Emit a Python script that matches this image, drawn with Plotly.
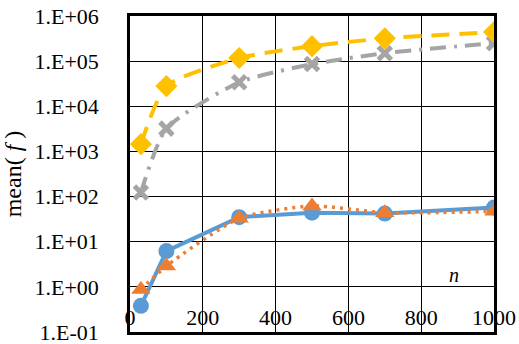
import plotly.graph_objects as go

n_vals = [30, 100, 300, 500, 700, 1000]
blue_vals = [0.38, 6.2, 35, 44, 42, 57]
orange_vals = [0.87, 2.9, 33, 62, 44, 47]
gray_vals = [123, 3200, 34000, 86000, 150000, 250000]
gold_vals = [1450, 28000, 117000, 215000, 320000, 440000]

x_ticks = [0, 200, 400, 600, 800, 1000]
y_ticks = [0.1, 1, 10, 100, 1e3, 1e4, 1e5, 1e6]
y_labels = ["1.E-01", "1.E+00", "1.E+01", "1.E+02", "1.E+03", "1.E+04", "1.E+05", "1.E+06"]

BLUE = "#5B9BD5"
ORANGE = "#ED7D31"
GRAY = "#A5A5A5"
GOLD = "#FFC000"
SERIF = "Liberation Serif, Times New Roman, serif"

fig = go.Figure()
fig.add_trace(go.Scatter(
    x=n_vals, y=gray_vals, mode="lines+markers",
    line=dict(color=GRAY, width=4, dash="16px,8px,3px,8px", shape="spline", smoothing=0.6),
    marker=dict(symbol="x-thin", size=13, line=dict(color=GRAY, width=5), color=GRAY),
))
fig.add_trace(go.Scatter(
    x=n_vals, y=gold_vals, mode="lines+markers",
    line=dict(color=GOLD, width=4, dash="18px,10px", shape="spline", smoothing=0.6),
    marker=dict(symbol="diamond", size=17, color=GOLD),
))
fig.add_trace(go.Scatter(
    x=n_vals, y=blue_vals, mode="lines+markers",
    line=dict(color=BLUE, width=4),
    marker=dict(symbol="circle", size=16, color=BLUE),
))
fig.add_trace(go.Scatter(
    x=n_vals, y=orange_vals, mode="lines+markers",
    line=dict(color=ORANGE, width=3.5, dash="3px,5px", shape="spline", smoothing=0.6),
    marker=dict(symbol="triangle-up", size=17, color=ORANGE),
))

fig.add_annotation(x=890, y=0.27, xref="x", yref="y", yanchor="middle", text="<i>n</i>", showarrow=False,
                   font=dict(family=SERIF, size=20, color="black"))

fig.update_layout(
    width=519, height=344,
    margin=dict(l=130, r=25, t=16, b=12),
    paper_bgcolor="white", plot_bgcolor="white",
    showlegend=False,
    font=dict(family=SERIF, size=22, color="black"),
)
fig.update_xaxes(
    range=[0, 1000], tickvals=x_ticks, ticktext=[str(v) for v in x_ticks],
    ticks="", ticklabelstandoff=-36, automargin=False, ticklabeloverflow="allow",
    showgrid=True, gridcolor="black", gridwidth=1,
    showline=True, linecolor="black", linewidth=2.5, mirror=True,
    zeroline=False, tickfont=dict(family=SERIF, size=22),
)
fig.update_yaxes(
    type="log", range=[-1, 6], tickvals=y_ticks, ticktext=y_labels, ticks="",
    ticklabelstandoff=24, automargin=False, ticklabeloverflow="allow",
    showgrid=True, gridcolor="black", gridwidth=1,
    showline=True, linecolor="black", linewidth=2.5, mirror=True,
    zeroline=False, tickfont=dict(family=SERIF, size=22),
    title=dict(text="mean( <i>f</i> )", font=dict(family=SERIF, size=24), standoff=9),
)

fig.write_html(
    "out.html",
    config={"displayModeBar": False},
    post_script="document.body.style.margin='0';document.body.style.overflow='hidden';",
)
